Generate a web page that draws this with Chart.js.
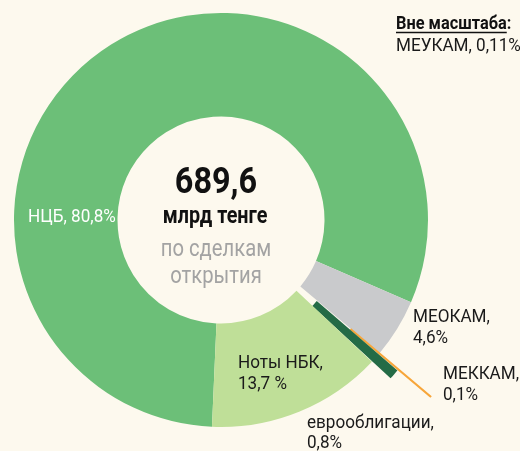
<!DOCTYPE html>
<html>
<head>
<meta charset="utf-8">
<script src="https://cdn.jsdelivr.net/npm/chart.js@4.4.0/dist/chart.umd.min.js"></script>
<style>
  html, body { margin: 0; padding: 0; background: #fdf9ee; }
  #wrap { width: 520px; height: 451px; position: relative; }
</style>
</head>
<body>
<div id="wrap"><canvas id="chart" width="520" height="451"></canvas></div>
<script>
// Segment names and shares (%) clockwise from the bottom
const categories = ['НЦБ', 'МЕОКАМ', 'МЕККАМ', 'еврооблигации', 'Ноты НБК'];
const shares = [80.8, 4.6, 0.1, 0.8, 13.7];
const shareLabels = ['80,8%', '4,6%', '0,1%', '0,8%', '13,7 %'];
const segmentColors = ['#6cbf78', '#c9cacc', '#f7a63a', '#246b46', '#bfdf98'];
const segmentOffsets = [0, 0, 134, 48, 0];

const totalValue = '689,6';
const totalUnit = 'млрд тенге';
const subtitleLines = ['по сделкам', 'открытия'];
const offScaleTitle = 'Вне масштаба';
const offScaleItem = 'МЕУКАМ, 0,11%';

const FONT = 'Roboto, "Liberation Sans", sans-serif';

function txt(ctx, s, x, y, size, weight, color, align, sx) {
  ctx.save();
  ctx.font = weight + ' ' + size + 'px ' + FONT;
  ctx.fillStyle = color;
  ctx.textBaseline = 'alphabetic';
  ctx.translate(x, y);
  ctx.scale(sx, 1);
  ctx.textAlign = align;
  ctx.fillText(s, 0, 0);
  const w = ctx.measureText(s).width * sx;
  ctx.restore();
  return w;
}

const labelPlugin = {
  id: 'labels',
  afterDraw(chart) {
    const ctx = chart.ctx;
    const arc = chart.getDatasetMeta(0).data[0];
    const cx = arc.x, cy = arc.y;
    const fs = 19, sx = 0.9;

    // centre
    txt(ctx, totalValue, cx - 5, cy - 27, 36, 'bold', '#111', 'center', 0.9);
    txt(ctx, totalUnit, cx - 6, cy + 3, 23, 'bold', '#111', 'center', 0.86);
    txt(ctx, subtitleLines[0], cx - 5, cy + 36, 23, 'normal', '#a3a3a3', 'center', 0.88);
    txt(ctx, subtitleLines[1], cx - 5, cy + 63, 23, 'normal', '#a3a3a3', 'center', 0.88);

    // segment labels
    txt(ctx, categories[0] + ', ' + shareLabels[0], 28, 222, fs, 'normal', '#ffffff', 'left', sx);
    txt(ctx, categories[4] + ',', 238, 368, fs, 'normal', '#1a1a1a', 'left', sx);
    txt(ctx, shareLabels[4], 238, 389, fs, 'normal', '#1a1a1a', 'left', sx);
    txt(ctx, categories[1] + ',', 413, 322, fs, 'normal', '#1a1a1a', 'left', sx);
    txt(ctx, shareLabels[1], 413, 343, fs, 'normal', '#1a1a1a', 'left', sx);
    txt(ctx, categories[2] + ',', 443, 379, fs, 'normal', '#1a1a1a', 'left', sx);
    txt(ctx, shareLabels[2], 443, 400, fs, 'normal', '#1a1a1a', 'left', sx);
    txt(ctx, categories[3] + ',', 307, 428, fs, 'normal', '#1a1a1a', 'left', sx);
    txt(ctx, shareLabels[3], 307, 448, fs, 'normal', '#1a1a1a', 'left', sx);

    // off-scale note
    const w = txt(ctx, offScaleTitle, 396, 29, fs, 'bold', '#111', 'left', 0.86);
    txt(ctx, ':', 396 + w, 29, fs, 'bold', '#111', 'left', 0.86);
    ctx.save();
    ctx.strokeStyle = '#111';
    ctx.lineWidth = 1.5;
    ctx.beginPath();
    ctx.moveTo(396, 32.5);
    ctx.lineTo(396 + w, 32.5);
    ctx.stroke();
    ctx.restore();
    txt(ctx, offScaleItem, 396, 51, fs, 'normal', '#1a1a1a', 'left', sx);
  }
};

new Chart(document.getElementById('chart'), {
  type: 'doughnut',
  data: {
    labels: categories,
    datasets: [{
      data: shares,
      backgroundColor: segmentColors,
      borderColor: segmentColors,
      borderWidth: [0, 0, 2, 3, 0],
      borderJoinStyle: 'miter',
      offset: segmentOffsets,
      hoverOffset: 0
    }]
  },
  options: {
    responsive: false,
    animation: false,
    rotation: 182.5,
    radius: 207,
    cutout: '50%',
    layout: { padding: { left: 0, right: 78, top: 0, bottom: 11 } },
    plugins: {
      legend: { display: false },
      tooltip: { enabled: false }
    }
  },
  plugins: [labelPlugin]
});
</script>
</body>
</html>
